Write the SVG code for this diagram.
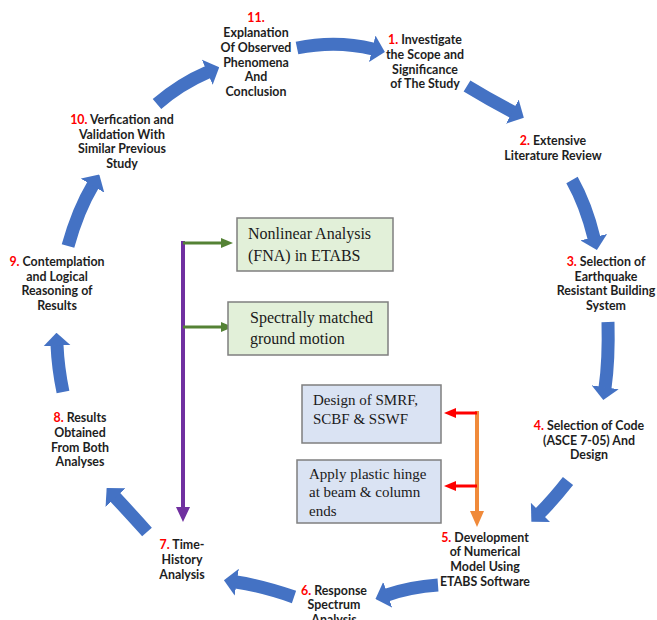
<svg xmlns="http://www.w3.org/2000/svg" width="657" height="620" viewBox="0 0 657 620">
<defs>
<style>
.lbl{font-family:Lato,"Liberation Sans",sans-serif;font-weight:bold;font-size:12.4px;fill:#1e1e1e;text-anchor:middle}
.num{fill:#FF0000}
.box{font-family:"Liberation Serif","Times New Roman",serif;font-size:16px;fill:#1a1a1a}
.box2{font-family:"Liberation Serif","Times New Roman",serif;font-size:15px;fill:#1a1a1a}
.gbox{fill:#E2F0D9;stroke:#7F7F7F;stroke-width:1.5}
.bbox{fill:#DAE3F3;stroke:#7F7F7F;stroke-width:1.5}
.blue{fill:none;stroke:#4472C4;stroke-width:13;marker-end:url(#bh)}
</style>
<marker id="bh" markerUnits="strokeWidth" markerWidth="1" markerHeight="2.1" viewBox="0 0 10 21" refX="0.6" refY="10.5" orient="auto"><polygon points="0,0 10,10.5 0,21" fill="#4472C4"/></marker>
</defs>
<rect width="657" height="620" fill="#FFFFFF"/>
<g id="connectors">
<path class="blue" d="M297,48 Q336,40 373,49"/>
<path class="blue" d="M467,86 Q490,100 513,112"/>
<path class="blue" d="M572,180 Q586,205 594,238"/>
<path class="blue" d="M608,322 Q609,360 605,388"/>
<path class="blue" d="M568,481 Q553,500 540,513"/>
<path class="blue" d="M438,585 Q410,587 387,595"/>
<path class="blue" d="M294,597 Q262,586 236,582"/>
<path class="blue" d="M147,532 Q130,513 115,497"/>
<path class="blue" d="M63,392 Q58,368 57,345"/>
<path class="blue" d="M68,246 Q78,210 93,185"/>
<path class="blue" d="M157,104 Q180,84 208,72"/>
<line x1="183" y1="241" x2="183" y2="509" stroke="#7030A0" stroke-width="4"/>
<polygon points="176,507 190,507 183,522" fill="#7030A0"/>
<line x1="183" y1="243" x2="222" y2="243" stroke="#548235" stroke-width="3"/>
<polygon points="221,238 221,248 233,243" fill="#548235"/>
<line x1="183" y1="327" x2="222" y2="327" stroke="#548235" stroke-width="3"/>
<polygon points="221,322 221,332 233,327" fill="#548235"/>
<line x1="477" y1="411" x2="477" y2="513" stroke="#F08A3A" stroke-width="4"/>
<polygon points="470,511 484,511 477,527" fill="#F08A3A"/>
<line x1="477" y1="413" x2="455" y2="413" stroke="#FF0000" stroke-width="3"/>
<polygon points="456,408 456,418 444,413" fill="#FF0000"/>
<line x1="477" y1="486" x2="455" y2="486" stroke="#FF0000" stroke-width="3"/>
<polygon points="456,481 456,491 444,486" fill="#FF0000"/>
</g>
<g id="n11"><text class="lbl"><tspan class="num" x="256" y="22">11.</tspan><tspan x="256" y="37">Explanation</tspan><tspan x="256" y="52">Of Observed</tspan><tspan x="256" y="67">Phenomena</tspan><tspan x="256" y="81">And</tspan><tspan x="256" y="96">Conclusion</tspan></text></g>
<g id="n1"><text class="lbl"><tspan x="425" y="44"><tspan class="num">1.</tspan> Investigate</tspan><tspan x="425" y="59">the Scope and</tspan><tspan x="425" y="74">Significance</tspan><tspan x="425" y="88">of The Study</tspan></text></g>
<g id="n2"><text class="lbl"><tspan x="553" y="145"><tspan class="num">2.</tspan> Extensive</tspan><tspan x="553" y="160">Literature Review</tspan></text></g>
<g id="n3"><text class="lbl"><tspan x="606" y="266"><tspan class="num">3.</tspan> Selection of</tspan><tspan x="606" y="281">Earthquake</tspan><tspan x="606" y="295">Resistant Building</tspan><tspan x="606" y="310">System</tspan></text></g>
<g id="n4"><text class="lbl"><tspan x="589" y="430"><tspan class="num">4.</tspan> Selection of Code</tspan><tspan x="589" y="445">(ASCE 7-05) And</tspan><tspan x="589" y="459">Design</tspan></text></g>
<g id="n5"><text class="lbl"><tspan x="485" y="542"><tspan class="num">5.</tspan> Development</tspan><tspan x="485" y="556">of Numerical</tspan><tspan x="485" y="571">Model Using</tspan><tspan x="485" y="586">ETABS Software</tspan></text></g>
<g id="n6"><text class="lbl"><tspan x="334" y="595"><tspan class="num">6.</tspan> Response</tspan><tspan x="334" y="609">Spectrum</tspan><tspan x="334" y="624">Analysis</tspan></text></g>
<g id="n7"><text class="lbl"><tspan x="182" y="549"><tspan class="num">7.</tspan> Time-</tspan><tspan x="182" y="564">History</tspan><tspan x="182" y="579">Analysis</tspan></text></g>
<g id="n8"><text class="lbl"><tspan x="80" y="422"><tspan class="num">8.</tspan> Results</tspan><tspan x="80" y="437">Obtained</tspan><tspan x="80" y="452">From Both</tspan><tspan x="80" y="466">Analyses</tspan></text></g>
<g id="n9"><text class="lbl"><tspan x="57" y="266"><tspan class="num">9.</tspan> Contemplation</tspan><tspan x="57" y="281">and Logical</tspan><tspan x="57" y="295">Reasoning of</tspan><tspan x="57" y="310">Results</tspan></text></g>
<g id="n10"><text class="lbl"><tspan x="122" y="124"><tspan class="num">10.</tspan> Verfication and</tspan><tspan x="122" y="139">Validation With</tspan><tspan x="122" y="153">Similar Previous</tspan><tspan x="122" y="168">Study</tspan></text></g>
<g id="boxFNA"><rect class="gbox" x="237" y="218" width="156" height="53"/><text class="box"><tspan x="248" y="239">Nonlinear Analysis</tspan><tspan x="248" y="261">(FNA) in ETABS</tspan></text></g>
<g id="boxSpectral"><rect class="gbox" x="228" y="302" width="160" height="53"/><text class="box"><tspan x="250" y="323">Spectrally matched</tspan><tspan x="250" y="344">ground motion</tspan></text></g>
<g id="boxDesign"><rect class="bbox" x="302" y="385" width="139" height="58"/><text class="box2"><tspan x="313" y="405">Design of SMRF,</tspan><tspan x="313" y="424">SCBF &amp; SSWF</tspan></text></g>
<g id="boxHinge"><rect class="bbox" x="297" y="460" width="144" height="63"/><text class="box2"><tspan x="309" y="479">Apply plastic hinge</tspan><tspan x="309" y="497">at beam &amp; column</tspan><tspan x="309" y="516">ends</tspan></text></g>
</svg>
